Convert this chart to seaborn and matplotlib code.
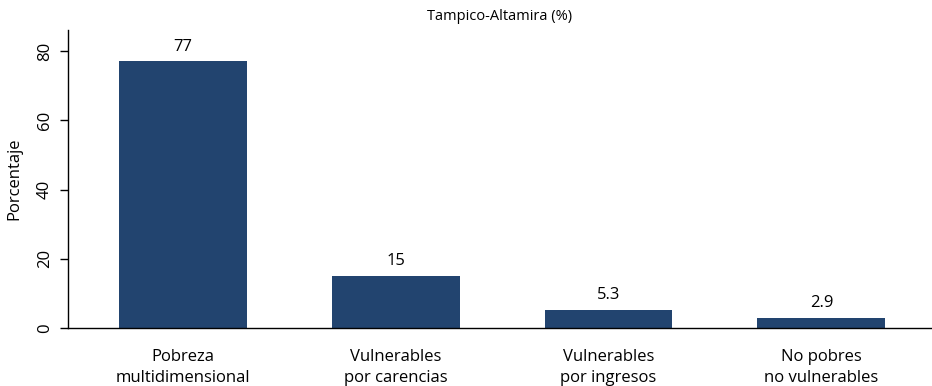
import matplotlib
matplotlib.use("Agg")
import matplotlib.pyplot as plt
import seaborn as sns
import pandas as pd

categories = ["Pobreza\nmultidimensional", "Vulnerables\npor carencias",
              "Vulnerables\npor ingresos", "No pobres\nno vulnerables"]
values = [77, 15, 5.3, 2.9]
value_labels = ["77", "15", "5.3", "2.9"]
yticks = [0, 20, 40, 60, 80]
title = "Tampico-Altamira (%)"

sns.set_theme(style="white", rc={"text.color": "black",
                                 "axes.labelcolor": "black",
                                 "xtick.color": "black",
                                 "ytick.color": "black"})
plt.rcParams["font.family"] = ["Open Sans", "DejaVu Sans"]

df = pd.DataFrame({"cat": categories, "val": values})

fig = plt.figure(figsize=(9.32, 3.86), dpi=100)
ax = fig.add_axes([68 / 932, 1 - 328 / 386, 1 - 68 / 932, (328 - 30) / 386])

sns.barplot(data=df, x="cat", y="val", color="#22446f", width=0.6,
            saturation=1, ax=ax)
for p in ax.patches:
    p.set_edgecolor("none")

for i, (v, lab) in enumerate(zip(values, value_labels)):
    ax.annotate(lab, (i, v), xytext=(0, 5), textcoords="offset points",
                ha="center", va="bottom", fontsize=12, color="black")

ax.set_xlim(-0.54, 3.52)
ax.set_ylim(0, 86.1)
ax.set_yticks(yticks)
ax.set_yticklabels([str(t) for t in yticks], rotation=90, va="center",
                   fontsize=12)
ax.tick_params(axis="y", length=6, width=1, color="black", pad=5, left=True)
ax.tick_params(axis="x", length=0, pad=15, labelsize=12)
for lab in ax.get_xticklabels():
    lab.set_linespacing(1.4)

ax.set_xlabel("")
ax.set_ylabel("Porcentaje", fontsize=12, labelpad=10)
ax.set_title(title, fontsize=10.5, pad=7)

for side in ["top", "right"]:
    ax.spines[side].set_visible(False)
for side in ["left", "bottom"]:
    ax.spines[side].set_color("black")
    ax.spines[side].set_linewidth(1)

fig.savefig("out.png", dpi=100, facecolor="white")
